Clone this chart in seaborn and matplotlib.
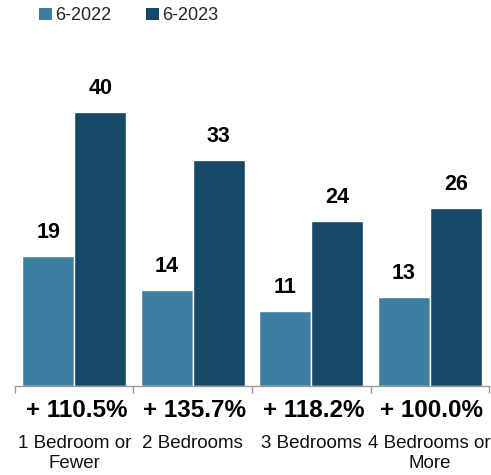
import matplotlib
matplotlib.use("Agg")
import matplotlib.pyplot as plt
from matplotlib.patches import Patch
import seaborn as sns
import pandas as pd

categories = ["1 Bedroom or\nFewer", "2 Bedrooms", "3 Bedrooms", "4 Bedrooms or\nMore"]
periods = ["6-2022", "6-2023"]
values_2022 = [19, 14, 11, 13]
values_2023 = [40, 33, 24, 26]
pct_change = ["+ 110.5%", "+ 135.7%", "+ 118.2%", "+ 100.0%"]
colors = ["#3E7EA1", "#164868"]

df = pd.DataFrame({
    "category": categories * 2,
    "period": [periods[0]] * 4 + [periods[1]] * 4,
    "value": values_2022 + values_2023,
})

sns.set_theme(style="white")
plt.rcParams["font.family"] = ["Liberation Sans", "DejaVu Sans"]

fig = plt.figure(figsize=(4.91, 4.75), dpi=100)
ax = fig.add_axes([0.0305, 0.1874, 0.9655, 0.69])

sns.barplot(data=df, x="category", y="value", hue="period", palette=colors,
            width=0.88, edgecolor="white", linewidth=1, saturation=1,
            legend=False, ax=ax)

for container in ax.containers:
    for bar in container:
        h = bar.get_height()
        ax.annotate(f"{h:.0f}", (bar.get_x() + bar.get_width() / 2, h),
                    xytext=(0, 13), textcoords="offset points",
                    ha="center", va="baseline", fontsize=15.5, fontweight="bold",
                    color="black")

ax.set_xlim(-0.5, 3.5)
ax.set_ylim(0, 47.8)
ax.set_xlabel("")
ax.set_ylabel("")
ax.set_yticks([])

for s in ["top", "right", "left"]:
    ax.spines[s].set_visible(False)
ax.spines["bottom"].set_color("#999999")
ax.spines["bottom"].set_linewidth(1)

ax.set_xticks(range(len(categories)))
ax.set_xticklabels(categories, fontsize=13.5, color="#111111", linespacing=1.25)
ax.tick_params(axis="x", which="major", length=0, pad=35)
ax.set_xticks([-0.5, 0.5, 1.5, 2.5, 3.5], minor=True)
ax.tick_params(axis="x", which="minor", length=5, width=1, color="#999999", bottom=True)

trans = ax.get_xaxis_transform()
for i, txt in enumerate(pct_change):
    ax.annotate(txt, (i, 0), xycoords=trans, xytext=(1.5, -22.5), textcoords="offset points",
                ha="center", va="baseline", fontsize=17.5, fontweight="bold", color="black")

handles = [Patch(facecolor=c, edgecolor="none") for c in colors]
fig.legend(handles, periods, loc="center left", bbox_to_anchor=(0.08, 0.967),
           ncol=2, frameon=False, fontsize=13, handlelength=0.7, handleheight=0.7,
           handletextpad=0.2, columnspacing=1.9, borderpad=0, borderaxespad=0)

fig.savefig("out.png", dpi=100)
